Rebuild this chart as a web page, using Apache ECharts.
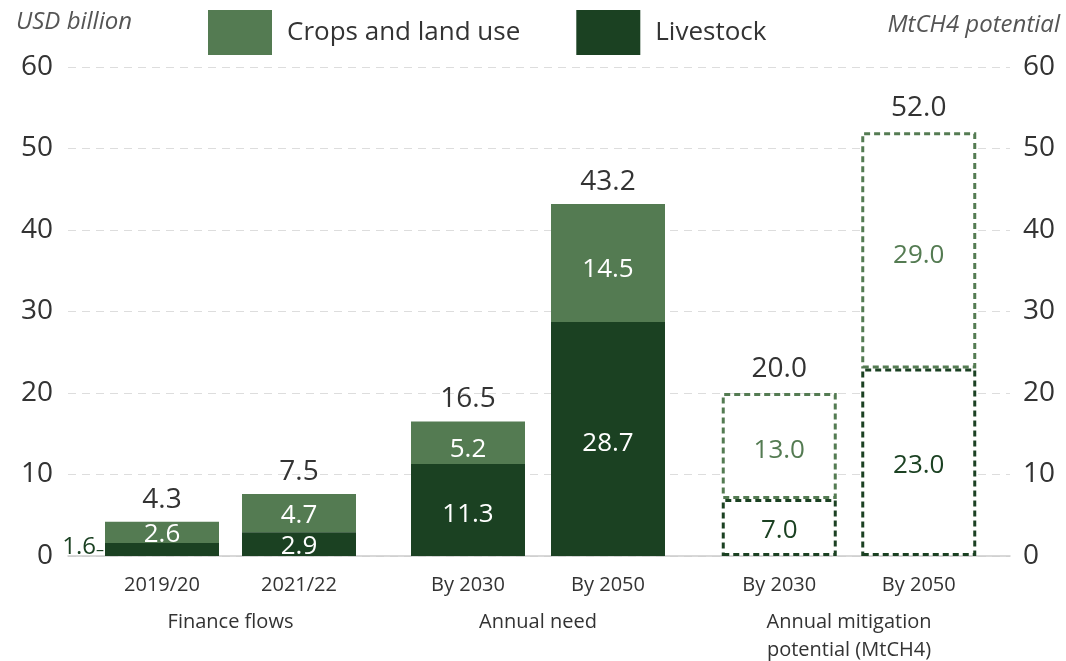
<!DOCTYPE html>
<html>
<head>
<meta charset="utf-8">
<script src="https://cdn.jsdelivr.net/npm/echarts@6/dist/echarts.min.js"></script>
<style>html,body{margin:0;padding:0;background:#fff}#chart{width:1066px;height:661px}</style>
</head>
<body>
<div id="chart"></div>
<script>
// ---- data ----
const financeCategories = ['2019/20', '2021/22'];
const needCategories = ['By 2030', 'By 2050'];
const mitigationCategories = ['By 2030', 'By 2050'];
const groupNames = ['Finance flows', 'Annual need', 'Annual mitigation\npotential (MtCH4)'];
const financeLivestock = [1.6, 2.9];
const financeCrops = [2.6, 4.7];
const financeTotal = [4.3, 7.5];
const needLivestock = [11.3, 28.7];
const needCrops = [5.2, 14.5];
const needTotal = [16.5, 43.2];
const mitigationLivestock = [7.0, 23.0];
const mitigationCrops = [13.0, 29.0];
const mitigationTotal = [20.0, 52.0];
const axisMin = 0, axisMax = 60, axisStep = 10;

// ---- styles ----
const FONT = 'Open Sans';
const CROPS = '#547b52';
const LIVE = '#1b4122';
const TXT = '#333333';

const chart = echarts.init(document.getElementById('chart'), null, {renderer: 'canvas'});

const barGrids = [
  {left: 93.5, width: 274},
  {left: 398, width: 280},
  {left: 709.5, width: 279}
];
const groups = [
  {cats: financeCategories, live: financeLivestock, crops: financeCrops, total: financeTotal, dashed: false, bw: 114, offL: 2, offC: 2},
  {cats: needCategories, live: needLivestock, crops: needCrops, total: needTotal, dashed: false, bw: 114, offL: 5, offC: 7},
  {cats: mitigationCategories, live: mitigationLivestock, crops: mitigationCrops, total: mitigationTotal, dashed: true, bw: 115, offL: 3, offC: 5}
];

const grid = [{left: 68, right: 56, top: 67, bottom: 105, outerBoundsMode: 'none'}];
const xAxis = [{
  gridIndex: 0, type: 'category', data: [''],
  axisLine: {show: true, lineStyle: {color: '#cccccc', width: 1.5}},
  axisTick: {show: false}, axisLabel: {show: false}, splitLine: {show: false}
}];
const yAxis = [
  {gridIndex: 0, type: 'value', position: 'left', min: axisMin, max: axisMax, interval: axisStep,
   axisLine: {show: false}, axisTick: {show: false},
   axisLabel: {fontFamily: FONT, fontSize: 28, color: TXT, margin: 15},
   splitLine: {show: true, lineStyle: {color: '#dddddd', type: [8, 6], width: 1}}},
  {gridIndex: 0, type: 'value', position: 'right', min: axisMin, max: axisMax, interval: axisStep,
   axisLine: {show: false}, axisTick: {show: false},
   axisLabel: {fontFamily: FONT, fontSize: 28, color: TXT, margin: 13},
   splitLine: {show: false}}
];
const series = [];

groups.forEach((g, i) => {
  const gi = i + 1;
  const yi = i + 2;
  grid.push({left: barGrids[i].left, width: barGrids[i].width, top: 67, bottom: 105, outerBoundsMode: 'none'});
  xAxis.push({
    gridIndex: gi, type: 'category', data: g.cats,
    axisLine: {show: false}, axisTick: {show: false},
    axisLabel: {fontFamily: FONT, fontSize: 20, color: TXT, margin: 19},
    name: groupNames[i], nameLocation: 'middle', nameGap: 52,
    nameTextStyle: {fontFamily: FONT, fontSize: 20, color: TXT, lineHeight: 28, verticalAlign: 'top'}
  });
  yAxis.push({gridIndex: gi, type: 'value', min: axisMin, max: axisMax, interval: axisStep, show: false});

  const liveData = g.live.map((v, k) => {
    if (!g.dashed && i === 0 && k === 0) {
      return {value: v, label: {position: 'left', distance: 1, offset: [0, -2], color: LIVE, fontSize: 24,
        formatter: (p) => p.value.toFixed(1) + '{t|–}',
        rich: {t: {fontSize: 16, color: LIVE, padding: [5, 0, 0, 0]}}}};
    }
    return v;
  });

  const dashStyle = (c) => ({color: '#ffffff', borderColor: c, borderWidth: 3, borderType: [6, 4]});

  series.push({
    name: g.dashed ? 'Livestock potential' : 'Livestock', type: 'bar', stack: 's' + i,
    xAxisIndex: gi, yAxisIndex: yi, barWidth: g.bw, z: 3,
    data: liveData,
    itemStyle: g.dashed ? dashStyle(LIVE) : {color: LIVE},
    label: {show: true, position: 'inside', offset: [0, g.offL], fontFamily: FONT, fontSize: 26,
      color: g.dashed ? LIVE : '#ffffff', formatter: (p) => p.value.toFixed(1)}
  });
  series.push({
    name: g.dashed ? 'Crops potential' : 'Crops and land use', type: 'bar', stack: 's' + i,
    xAxisIndex: gi, yAxisIndex: yi, barWidth: g.bw, z: 2,
    data: g.crops,
    itemStyle: g.dashed ? dashStyle(CROPS) : {color: CROPS},
    label: {show: true, position: 'inside', offset: [0, g.offC], fontFamily: FONT, fontSize: 26,
      color: g.dashed ? CROPS : '#ffffff', formatter: (p) => p.value.toFixed(1)}
  });
  series.push({
    name: 'total' + i, type: 'bar', stack: 's' + i,
    xAxisIndex: gi, yAxisIndex: yi, barWidth: g.bw, z: 4,
    data: g.total.map(() => 0),
    itemStyle: {color: 'rgba(0,0,0,0)'},
    label: {show: true, position: 'top', distance: g.dashed ? 10 : 8, fontFamily: FONT, fontSize: 28, color: TXT,
      formatter: (p) => g.total[p.dataIndex].toFixed(1)}
  });
});

chart.setOption({
  animation: false,
  backgroundColor: '#ffffff',
  title: [
    {text: 'USD billion', left: 16, top: 10, padding: 0, textStyle: {fontFamily: FONT, fontSize: 24, fontStyle: 'italic', fontWeight: 'normal', color: '#555555'}},
    {text: 'MtCH4 potential', right: 6, top: 13, padding: 0, textStyle: {fontFamily: FONT, fontSize: 24, fontStyle: 'italic', fontWeight: 'normal', color: '#555555'}}
  ],
  legend: {
    data: ['Crops and land use', 'Livestock'], left: 203, top: 5,
    itemWidth: 64, itemHeight: 45, itemGap: 56, icon: 'rect',
    textStyle: {fontFamily: FONT, fontSize: 26, color: TXT, padding: [0, 0, 0, 10]},
    selectedMode: false
  },
  grid: grid, xAxis: xAxis, yAxis: yAxis, series: series
});
</script>
</body>
</html>
